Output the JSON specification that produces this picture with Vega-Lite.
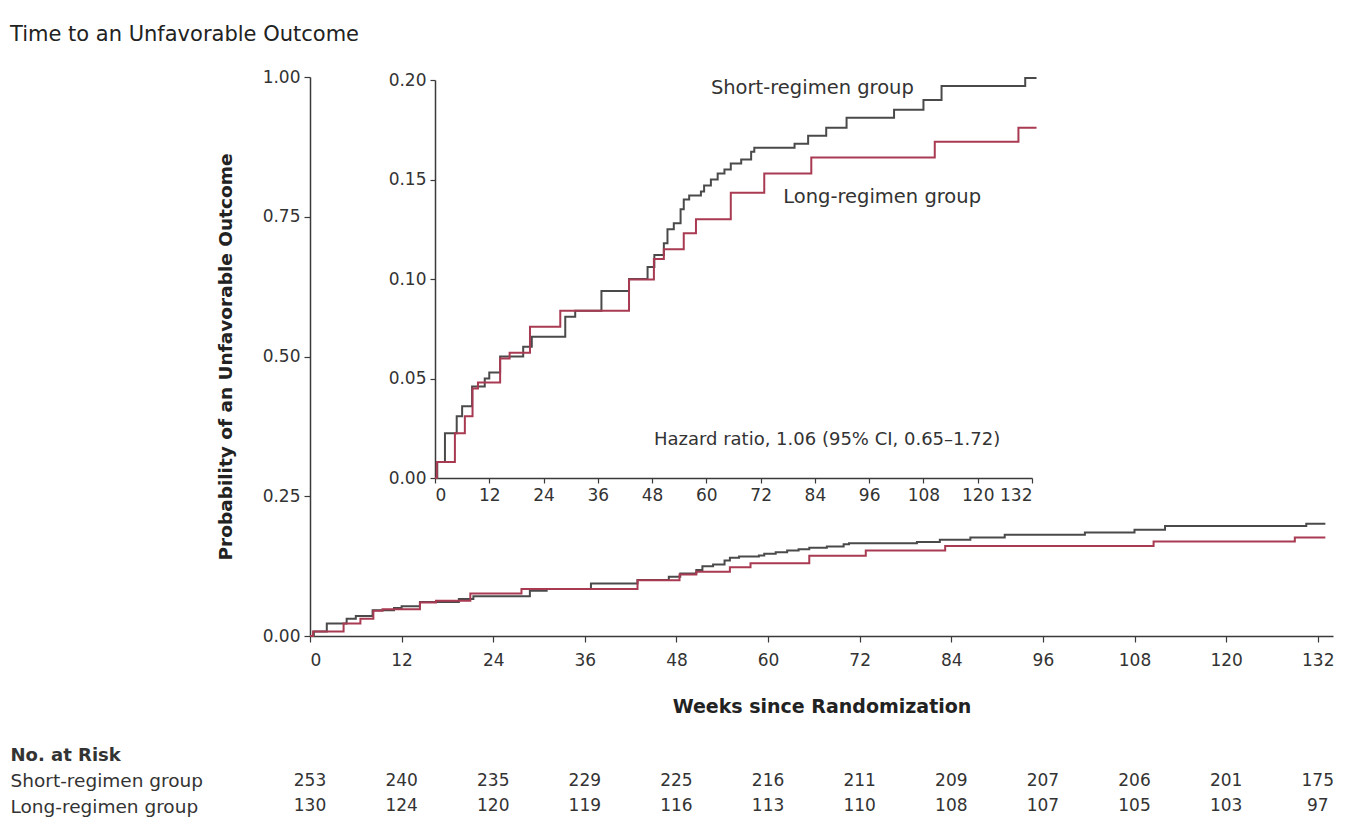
{
  "$schema": "https://vega.github.io/schema/vega-lite/v6.json",
  "width": 1023,
  "height": 559,
  "autosize": {"type": "none"},
  "padding": {"left": 310, "top": 77, "right": 16, "bottom": 189},
  "background": "white",
  "title": {
    "text": "Time to an Unfavorable Outcome",
    "anchor": "start",
    "frame": "group",
    "dx": -300,
    "dy": 24,
    "baseline": "alphabetic",
    "offset": 30,
    "fontSize": 21,
    "fontWeight": "normal",
    "font": "DejaVu Sans",
    "color": "#222222"
  },
  "config": {
    "font": "DejaVu Sans",
    "view": {"stroke": null},
    "axis": {
      "grid": false,
      "domainColor": "#3a3a3a",
      "domainWidth": 1.5,
      "tickColor": "#3a3a3a",
      "tickWidth": 1.2,
      "labelColor": "#333333",
      "titleColor": "#222222",
      "labelFont": "DejaVu Sans",
      "titleFont": "DejaVu Sans",
      "labelFontSize": 17,
      "titleFontSize": 18
    },
    "text": {"font": "DejaVu Sans"}
  },
  "datasets": {
    "km": [
      {"group": "Short-regimen group", "week": 0, "p": 0},
      {"group": "Short-regimen group", "week": 0.5, "p": 0.008},
      {"group": "Short-regimen group", "week": 2.2, "p": 0.0225},
      {"group": "Short-regimen group", "week": 4.8, "p": 0.031},
      {"group": "Short-regimen group", "week": 6.0, "p": 0.036},
      {"group": "Short-regimen group", "week": 8.2, "p": 0.046},
      {"group": "Short-regimen group", "week": 11.0, "p": 0.05},
      {"group": "Short-regimen group", "week": 12.0, "p": 0.053},
      {"group": "Short-regimen group", "week": 14.4, "p": 0.061},
      {"group": "Short-regimen group", "week": 19.5, "p": 0.066},
      {"group": "Short-regimen group", "week": 21.4, "p": 0.071},
      {"group": "Short-regimen group", "week": 28.8, "p": 0.081},
      {"group": "Short-regimen group", "week": 31.0, "p": 0.084},
      {"group": "Short-regimen group", "week": 36.8, "p": 0.094},
      {"group": "Short-regimen group", "week": 42.9, "p": 0.1},
      {"group": "Short-regimen group", "week": 47.0, "p": 0.106},
      {"group": "Short-regimen group", "week": 48.5, "p": 0.112},
      {"group": "Short-regimen group", "week": 50.6, "p": 0.118},
      {"group": "Short-regimen group", "week": 51.4, "p": 0.125},
      {"group": "Short-regimen group", "week": 52.8, "p": 0.128},
      {"group": "Short-regimen group", "week": 54.3, "p": 0.135},
      {"group": "Short-regimen group", "week": 55.0, "p": 0.14},
      {"group": "Short-regimen group", "week": 56.2, "p": 0.142},
      {"group": "Short-regimen group", "week": 58.8, "p": 0.144},
      {"group": "Short-regimen group", "week": 59.5, "p": 0.147},
      {"group": "Short-regimen group", "week": 61.0, "p": 0.15},
      {"group": "Short-regimen group", "week": 62.5, "p": 0.153},
      {"group": "Short-regimen group", "week": 64.0, "p": 0.155},
      {"group": "Short-regimen group", "week": 65.4, "p": 0.158},
      {"group": "Short-regimen group", "week": 67.7, "p": 0.16},
      {"group": "Short-regimen group", "week": 69.9, "p": 0.164},
      {"group": "Short-regimen group", "week": 70.6, "p": 0.166},
      {"group": "Short-regimen group", "week": 79.5, "p": 0.168},
      {"group": "Short-regimen group", "week": 82.5, "p": 0.172},
      {"group": "Short-regimen group", "week": 86.5, "p": 0.176},
      {"group": "Short-regimen group", "week": 91.0, "p": 0.181},
      {"group": "Short-regimen group", "week": 101.5, "p": 0.185},
      {"group": "Short-regimen group", "week": 108.0, "p": 0.19},
      {"group": "Short-regimen group", "week": 112.0, "p": 0.197},
      {"group": "Short-regimen group", "week": 130.5, "p": 0.201},
      {"group": "Short-regimen group", "week": 133, "p": 0.201},
      {"group": "Long-regimen group", "week": 0, "p": 0},
      {"group": "Long-regimen group", "week": 0.4, "p": 0.008},
      {"group": "Long-regimen group", "week": 4.4, "p": 0.0225},
      {"group": "Long-regimen group", "week": 6.6, "p": 0.031},
      {"group": "Long-regimen group", "week": 8.3, "p": 0.045},
      {"group": "Long-regimen group", "week": 9.5, "p": 0.048},
      {"group": "Long-regimen group", "week": 14.4, "p": 0.06},
      {"group": "Long-regimen group", "week": 16.5, "p": 0.063},
      {"group": "Long-regimen group", "week": 21.0, "p": 0.076},
      {"group": "Long-regimen group", "week": 27.7, "p": 0.084},
      {"group": "Long-regimen group", "week": 42.9, "p": 0.0997},
      {"group": "Long-regimen group", "week": 48.4, "p": 0.11},
      {"group": "Long-regimen group", "week": 50.6, "p": 0.115},
      {"group": "Long-regimen group", "week": 55.0, "p": 0.123},
      {"group": "Long-regimen group", "week": 57.7, "p": 0.13},
      {"group": "Long-regimen group", "week": 65.4, "p": 0.1434},
      {"group": "Long-regimen group", "week": 72.8, "p": 0.153},
      {"group": "Long-regimen group", "week": 83.2, "p": 0.161},
      {"group": "Long-regimen group", "week": 110.5, "p": 0.169},
      {"group": "Long-regimen group", "week": 129.0, "p": 0.176},
      {"group": "Long-regimen group", "week": 133, "p": 0.176}
    ],
    "notes": [
      {"label": "Short-regimen group", "week": 61, "p": 0.196, "size": "big"},
      {"label": "Long-regimen group", "week": 77, "p": 0.141, "size": "big"},
      {"label": "Hazard ratio, 1.06 (95% CI, 0.65\u20131.72)", "week": 48.4, "p": 0.019, "size": "small"}
    ],
    "risk": [
      {"group": "Short-regimen group", "week": 0, "n": 253},
      {"group": "Short-regimen group", "week": 12, "n": 240},
      {"group": "Short-regimen group", "week": 24, "n": 235},
      {"group": "Short-regimen group", "week": 36, "n": 229},
      {"group": "Short-regimen group", "week": 48, "n": 225},
      {"group": "Short-regimen group", "week": 60, "n": 216},
      {"group": "Short-regimen group", "week": 72, "n": 211},
      {"group": "Short-regimen group", "week": 84, "n": 209},
      {"group": "Short-regimen group", "week": 96, "n": 207},
      {"group": "Short-regimen group", "week": 108, "n": 206},
      {"group": "Short-regimen group", "week": 120, "n": 201},
      {"group": "Short-regimen group", "week": 132, "n": 175},
      {"group": "Long-regimen group", "week": 0, "n": 130},
      {"group": "Long-regimen group", "week": 12, "n": 124},
      {"group": "Long-regimen group", "week": 24, "n": 120},
      {"group": "Long-regimen group", "week": 36, "n": 119},
      {"group": "Long-regimen group", "week": 48, "n": 116},
      {"group": "Long-regimen group", "week": 60, "n": 113},
      {"group": "Long-regimen group", "week": 72, "n": 110},
      {"group": "Long-regimen group", "week": 84, "n": 108},
      {"group": "Long-regimen group", "week": 96, "n": 107},
      {"group": "Long-regimen group", "week": 108, "n": 105},
      {"group": "Long-regimen group", "week": 120, "n": 103},
      {"group": "Long-regimen group", "week": 132, "n": 97}
    ]
  },
  "layer": [
    {
      "data": {"name": "km"},
      "mark": {"type": "line", "interpolate": "step-after", "strokeWidth": 2},
      "encoding": {
        "x": {
          "field": "week", "type": "quantitative",
          "scale": {"domain": [0, 134], "nice": false},
          "axis": {
            "orient": "bottom",
            "values": [0, 12, 24, 36, 48, 60, 72, 84, 96, 108, 120, 132],
            "title": "Weeks since Randomization",
            "titleFontWeight": "bold",
            "titleFontSize": 19,
            "tickSize": 6,
            "labelPadding": 10,
            "titlePadding": 29
          }
        },
        "y": {
          "field": "p", "type": "quantitative",
          "scale": {"domain": [0, 1], "nice": false},
          "axis": {
            "orient": "left",
            "values": [0, 0.25, 0.5, 0.75, 1],
            "format": ".2f",
            "title": "Probability of an Unfavorable Outcome",
            "titleFontWeight": "bold",
            "titleFontSize": 18.5,
            "tickSize": 6,
            "labelPadding": 4,
            "titlePadding": 27
          }
        },
        "color": {
          "field": "group", "type": "nominal",
          "scale": {"domain": ["Short-regimen group", "Long-regimen group"], "range": ["#4a4a4a", "#a83a52"]},
          "legend": null
        }
      }
    },
    {
      "layer": [
        {
          "data": {"name": "km"},
          "mark": {"type": "line", "interpolate": "step-after", "strokeWidth": 2},
          "encoding": {
            "x": {
              "field": "week", "type": "quantitative",
              "scale": {"domain": [0, 132], "range": [125, 722], "nice": false},
              "axis": {
                "orient": "bottom",
                "offset": -158,
                "values": [0, 12, 24, 36, 48, 60, 72, 84, 96, 108, 120, 132],
                "title": null,
                "tickSize": 5,
                "labelPadding": 4
              }
            },
            "y": {
              "field": "p", "type": "quantitative",
              "scale": {"domain": [0, 0.2], "range": [401, 3], "nice": false},
              "axis": {
                "orient": "left",
                "offset": -125,
                "values": [0, 0.05, 0.1, 0.15, 0.2],
                "format": ".2f",
                "title": null,
                "tickSize": 5,
                "labelPadding": 4
              }
            },
            "color": {
              "field": "group", "type": "nominal",
              "scale": {"domain": ["Short-regimen group", "Long-regimen group"], "range": ["#4a4a4a", "#a83a52"]},
              "legend": null
            }
          }
        },
        {
          "data": {"name": "notes"},
          "mark": {"type": "text", "align": "left", "baseline": "middle", "color": "#333333"},
          "encoding": {
            "x": {"field": "week", "type": "quantitative"},
            "y": {"field": "p", "type": "quantitative"},
            "text": {"field": "label"},
            "size": {
              "field": "size", "type": "nominal",
              "scale": {"domain": ["big", "small"], "range": [19.5, 18]},
              "legend": null
            }
          }
        }
      ]
    },
    {
      "data": {"name": "risk"},
      "mark": {"type": "text", "align": "center", "baseline": "middle", "fontSize": 17, "color": "#333333"},
      "encoding": {
        "x": {
          "field": "week", "type": "quantitative",
          "scale": {"domain": [0, 134], "nice": false},
          "axis": null
        },
        "y": {
          "field": "group", "type": "nominal",
          "scale": {"type": "point", "domain": ["No. at Risk", "Short-regimen group", "Long-regimen group"], "range": [678, 729], "padding": 0},
          "axis": {
            "orient": "left",
            "title": null,
            "domain": false,
            "ticks": false,
            "tickSize": 0,
            "labelAlign": "left",
            "labelPadding": 300,
            "labelLimit": 400,
            "labelFontSize": {"condition": {"test": "datum.value === 'No. at Risk'", "value": 18}, "value": 18.5},
            "labelFontWeight": {"condition": {"test": "datum.value === 'No. at Risk'", "value": "bold"}, "value": "normal"},
            "labelColor": "#333333"
          }
        },
        "text": {"field": "n", "type": "quantitative"}
      }
    }
  ],
  "resolve": {
    "scale": {"x": "independent", "y": "independent"},
    "axis": {"x": "independent", "y": "independent"}
  }
}
